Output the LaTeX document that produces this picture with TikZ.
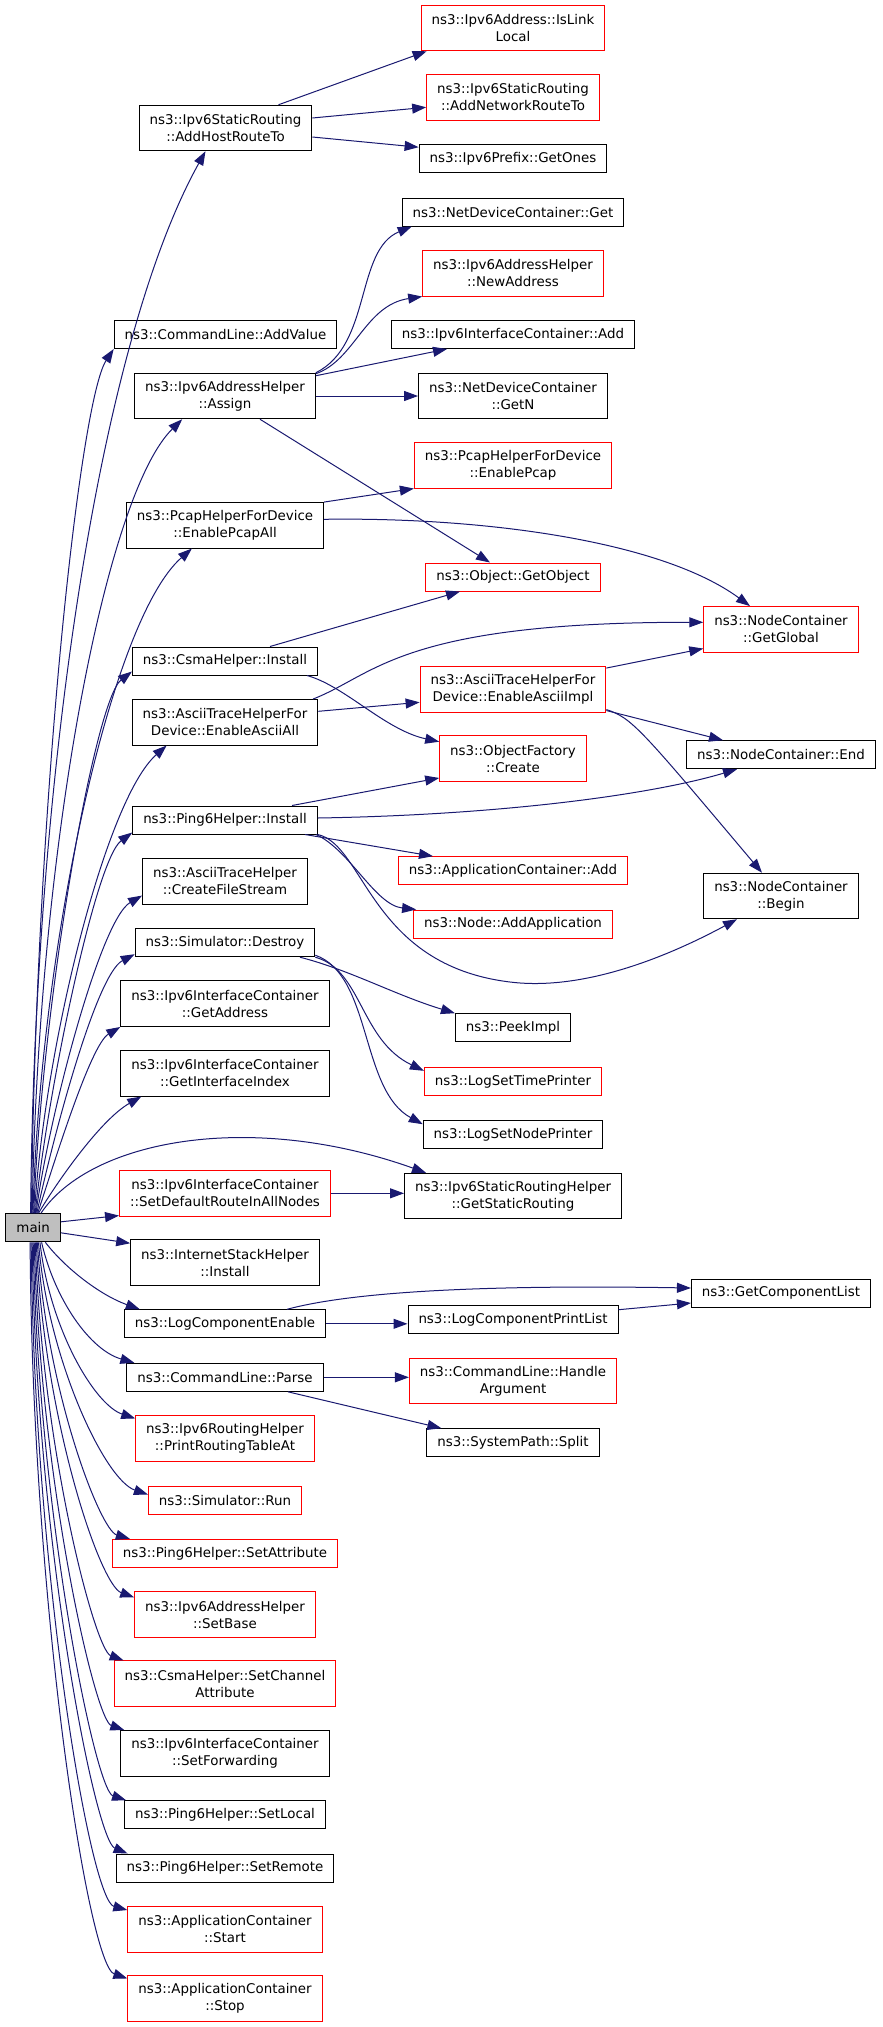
\documentclass[tikz,border=0pt]{standalone}
\usepackage{fontspec}
\setmainfont{DejaVu Sans}
\usetikzlibrary{arrows.meta}
\definecolor{edgeblue}{HTML}{191970}
\definecolor{mainfill}{HTML}{BFBFBF}
\tikzset{
  func/.style={
    draw=black,
    line width=1pt,
    fill=white,
    inner xsep=10.5pt,
    inner ysep=0pt,
    minimum height=28pt,
    align=center,
    font=\fontsize{13.4}{17}\selectfont
  },
  undoc/.style={
    func,
    draw=red
  },
  tall/.style={
    minimum height=45.5pt
  },
  root/.style={
    func,
    fill=mainfill
  },
  call/.style={
    -{Triangle[length=14pt,width=10pt]},
    draw=edgeblue,
    line width=1pt
  }
}

\begin{document}
\begin{tikzpicture}[x=1pt,y=-1pt]
  \useasboundingbox (0,0) rectangle (883,2027);

  \node[root] (main) at (33.2,1227.8) {main};

  \node[func,tall] (host) at (225.5,128) {ns3::Ipv6StaticRouting\\::AddHostRouteTo};
  \node[func] (addvalue) at (225.5,334.5) {ns3::CommandLine::AddValue};
  \node[func,tall] (assign) at (225,396) {ns3::Ipv6AddressHelper\\::Assign};
  \node[func,tall] (pcapall) at (225,525.3) {ns3::PcapHelperForDevice\\::EnablePcapAll};
  \node[func] (csma) at (225,661) {ns3::CsmaHelper::Install};
  \node[func,tall] (asciiall) at (225,722.3) {ns3::AsciiTraceHelperFor\\Device::EnableAsciiAll};
  \node[func] (pinginst) at (225,820) {ns3::Ping6Helper::Install};
  \node[func,tall] (filestream) at (225,881.3) {ns3::AsciiTraceHelper\\::CreateFileStream};
  \node[func] (destroy) at (225,942.7) {ns3::Simulator::Destroy};
  \node[func,tall] (getaddr) at (225,1003.7) {ns3::Ipv6InterfaceContainer\\::GetAddress};
  \node[func,tall] (getif) at (225,1073.3) {ns3::Ipv6InterfaceContainer\\::GetInterfaceIndex};
  \node[undoc,tall] (setdef) at (225,1193.3) {ns3::Ipv6InterfaceContainer\\::SetDefaultRouteInAllNodes};
  \node[func,tall] (stack) at (225,1262.5) {ns3::InternetStackHelper\\::Install};
  \node[func] (logenable) at (225,1323.8) {ns3::LogComponentEnable};
  \node[func] (parse) at (225,1377.3) {ns3::CommandLine::Parse};
  \node[undoc,tall] (printtable) at (225,1438.7) {ns3::Ipv6RoutingHelper\\::PrintRoutingTableAt};
  \node[undoc] (run) at (225,1500) {ns3::Simulator::Run};
  \node[undoc] (setattr) at (225,1553.3) {ns3::Ping6Helper::SetAttribute};
  \node[undoc,tall] (setbase) at (225,1614.7) {ns3::Ipv6AddressHelper\\::SetBase};
  \node[undoc,tall] (setchan) at (225,1683.7) {ns3::CsmaHelper::SetChannel\\Attribute};
  \node[func,tall] (setfwd) at (225,1753.3) {ns3::Ipv6InterfaceContainer\\::SetForwarding};
  \node[func] (setlocal) at (225,1814.7) {ns3::Ping6Helper::SetLocal};
  \node[func] (setremote) at (225,1868) {ns3::Ping6Helper::SetRemote};
  \node[undoc,tall] (appstart) at (225,1929.3) {ns3::ApplicationContainer\\::Start};
  \node[undoc,tall] (appstop) at (225,1998.7) {ns3::ApplicationContainer\\::Stop};

  \node[undoc,tall] (islink) at (513,28) {ns3::Ipv6Address::IsLink\\Local};
  \node[undoc,tall] (netroute) at (513,97.3) {ns3::Ipv6StaticRouting\\::AddNetworkRouteTo};
  \node[func] (getones) at (513,158.7) {ns3::Ipv6Prefix::GetOnes};
  \node[func] (ndget) at (513,212) {ns3::NetDeviceContainer::Get};
  \node[undoc,tall] (newaddr) at (513,273.3) {ns3::Ipv6AddressHelper\\::NewAddress};
  \node[func] (ifadd) at (513,334.5) {ns3::Ipv6InterfaceContainer::Add};
  \node[func,tall] (getn) at (513,396) {ns3::NetDeviceContainer\\::GetN};
  \node[undoc,tall] (pcap) at (513,465.3) {ns3::PcapHelperForDevice\\::EnablePcap};
  \node[undoc] (getobj) at (513,577) {ns3::Object::GetObject};
  \node[undoc,tall] (asciiimpl) at (513,689.3) {ns3::AsciiTraceHelperFor\\Device::EnableAsciiImpl};
  \node[undoc,tall] (create) at (513,758.7) {ns3::ObjectFactory\\::Create};
  \node[undoc] (appadd) at (513,870.7) {ns3::ApplicationContainer::Add};
  \node[undoc] (addapp) at (513,924) {ns3::Node::AddApplication};
  \node[func] (peek) at (513,1027.7) {ns3::PeekImpl};
  \node[undoc] (timeprn) at (513,1081.3) {ns3::LogSetTimePrinter};
  \node[func] (nodeprn) at (513,1134.7) {ns3::LogSetNodePrinter};
  \node[func,tall] (staticrt) at (513,1196) {ns3::Ipv6StaticRoutingHelper\\::GetStaticRouting};
  \node[func] (printlist) at (513,1319.7) {ns3::LogComponentPrintList};
  \node[undoc,tall] (handlearg) at (513,1381.2) {ns3::CommandLine::Handle\\Argument};
  \node[func] (split) at (513,1442.7) {ns3::SystemPath::Split};

  \node[undoc,tall] (getglobal) at (781,629.3) {ns3::NodeContainer\\::GetGlobal};
  \node[func] (ncend) at (781,754.7) {ns3::NodeContainer::End};
  \node[func,tall] (ncbegin) at (781,896) {ns3::NodeContainer\\::Begin};
  \node[func] (complist) at (781,1293) {ns3::GetComponentList};

  % calls from main, upwards
  \draw[call] (main.100) .. controls (34,800) and (95,350) .. ([xshift=-20pt]host.south);
  \draw[call] (main.97) .. controls (36,800) and (80,400) .. (addvalue.south west);
  \draw[call] (main.94) .. controls (38,850) and (105,495) .. ([xshift=48pt]assign.south west);
  \draw[call] (main.91) .. controls (40,950) and (110,620) .. ([xshift=66pt]pcapall.south west);
  \draw[call] (main.88) .. controls (42,1000) and (95,700) .. ([yshift=4pt]csma.south west);
  \draw[call] (main.85) .. controls (44,1050) and (105,800) .. ([xshift=35pt]asciiall.south west);
  \draw[call] (main.82) .. controls (46,1100) and (95,860) .. ([yshift=2pt]pinginst.south west);
  \draw[call] (main.79) .. controls (48,1120) and (100,920) .. ([yshift=9pt]filestream.south west);
  \draw[call] (main.76) .. controls (50,1150) and (95,975) .. ([yshift=3pt]destroy.south west);
  \draw[call] (main.73) .. controls (52,1170) and (90,1045) .. (getaddr.south west);
  \draw[call] (main.70) .. controls (55,1185) and (100,1120) .. ([xshift=21pt]getif.south west);
  \draw[call] (main.62) .. controls (90,1140) and (250,1110) .. ([xshift=22pt]staticrt.north west);

  % calls from main, sideways and downwards
  \draw[call] ([yshift=6pt]main.east) -- ([yshift=1pt]setdef.south west);
  \draw[call] ([yshift=-5pt]main.east) -- ([yshift=-4pt]stack.north west);
  \draw[call] (main.-50) .. controls (65,1268) and (100,1295) .. ([xshift=16pt]logenable.north west);
  \draw[call] (main.-60) .. controls (55,1300) and (90,1350) .. ([xshift=8pt]parse.north west);
  \draw[call] (main.-65) .. controls (50,1330) and (95,1405) .. ([yshift=-3pt]printtable.north west);
  \draw[call] (main.-70) .. controls (48,1360) and (105,1480) .. ([yshift=-9pt]run.north west);
  \draw[call] (main.-74) .. controls (46,1390) and (100,1530) .. ([xshift=18pt]setattr.north west);
  \draw[call] (main.-78) .. controls (44,1420) and (100,1585) .. ([yshift=-6pt]setbase.north west);
  \draw[call] (main.-82) .. controls (42,1450) and (95,1650) .. ([xshift=10pt]setchan.north west);
  \draw[call] (main.-86) .. controls (40,1480) and (95,1720) .. ([xshift=4pt]setfwd.north west);
  \draw[call] (main.-90) .. controls (38,1510) and (95,1790) .. ([xshift=2pt]setlocal.north west);
  \draw[call] (main.-94) .. controls (36,1540) and (95,1840) .. ([xshift=12pt]setremote.north west);
  \draw[call] (main.-98) .. controls (34,1570) and (90,1900) .. ([yshift=-4pt]appstart.north west);
  \draw[call] (main.-102) .. controls (32,1600) and (88,1965) .. ([yshift=-3pt]appstop.north west);

  % second level calls
  \draw[call] ([xshift=53pt]host.north) -- ([xshift=6pt]islink.south west);
  \draw[call] ([yshift=10pt]host.east) -- ([yshift=-10pt]netroute.west);
  \draw[call] ([yshift=-9pt]host.east) -- ([yshift=11.5pt]getones.west);

  \draw[call] (assign.north east) .. controls (372,345) and (355,250) .. ([xshift=10pt]ndget.south west);
  \draw[call] ([yshift=-1pt]assign.north east) .. controls (355,360) and (365,305) .. (newaddr.south west);
  \draw[call] ([yshift=-3pt]assign.north east) -- ([xshift=-66pt]ifadd.south);
  \draw[call] (assign.east) -- (getn.west);
  \draw[call] ([xshift=35pt]assign.south) -- ([xshift=-23pt]getobj.north);

  \draw[call] (pcapall.north east) -- (pcap.south west);
  \draw[call] ([yshift=6pt]pcapall.east) .. controls (480,517) and (660,540) .. ([xshift=-31pt]getglobal.north);

  \draw[call] ([xshift=45pt]csma.north) -- ([xshift=-53pt]getobj.south);
  \draw[call] ([xshift=82pt]csma.south) .. controls (345,686) and (385,730) .. ([yshift=17pt]create.west);

  \draw[call] ([xshift=88pt]asciiall.north) .. controls (375,675) and (400,622) .. ([yshift=7pt]getglobal.west);
  \draw[call] ([yshift=11pt]asciiall.east) -- ([yshift=-13pt]asciiimpl.west);

  \draw[call] ([yshift=-2pt]asciiimpl.north east) -- ([yshift=4pt]getglobal.south west);
  \draw[call] ([yshift=2pt]asciiimpl.south east) -- ([xshift=-58pt]ncend.north);
  \draw[call] ([yshift=3pt]asciiimpl.south east) .. controls (632,718) and (640,728) .. ([xshift=-19pt]ncbegin.north);

  \draw[call] ([xshift=67pt]pinginst.north) -- ([yshift=4pt]create.south west);
  \draw[call] ([yshift=2pt]pinginst.east) .. controls (500,815) and (650,795) .. ([xshift=-44pt]ncend.south);
  \draw[call] ([xshift=80pt]pinginst.south) -- ([xshift=-80pt]appadd.north);
  \draw[call] ([xshift=91pt]pinginst.south) .. controls (350,850) and (375,905) .. ([xshift=3pt]addapp.north west);
  \draw[call] (pinginst.south east) .. controls (365,845) and (370,965) .. (510,982)
    .. controls (590,992) and (680,950) .. ([xshift=-44pt]ncbegin.south);

  \draw[call] ([xshift=75pt]destroy.south) .. controls (350,970) and (395,995) .. (peek.north west);
  \draw[call] (destroy.south east) .. controls (362,970) and (360,1040) .. ([yshift=-4pt]timeprn.north west);
  \draw[call] ([yshift=2pt]destroy.south east) .. controls (372,975) and (360,1090) .. ([yshift=-4pt]nodeprn.north west);

  \draw[call] (setdef.east) -- (setdef.east -| staticrt.west);

  \draw[call] ([xshift=62pt]logenable.north) .. controls (340,1295) and (450,1284) .. ([yshift=5pt]complist.west);
  \draw[call] (logenable.east) -- (logenable.east -| printlist.west);
  \draw[call] ([yshift=10pt]printlist.east) -- ([yshift=-10pt]complist.west);

  \draw[call] (parse.east) -- (parse.east -| handlearg.west);
  \draw[call] ([xshift=63pt]parse.south) -- ([xshift=15pt]split.north west);
\end{tikzpicture}
\end{document}
